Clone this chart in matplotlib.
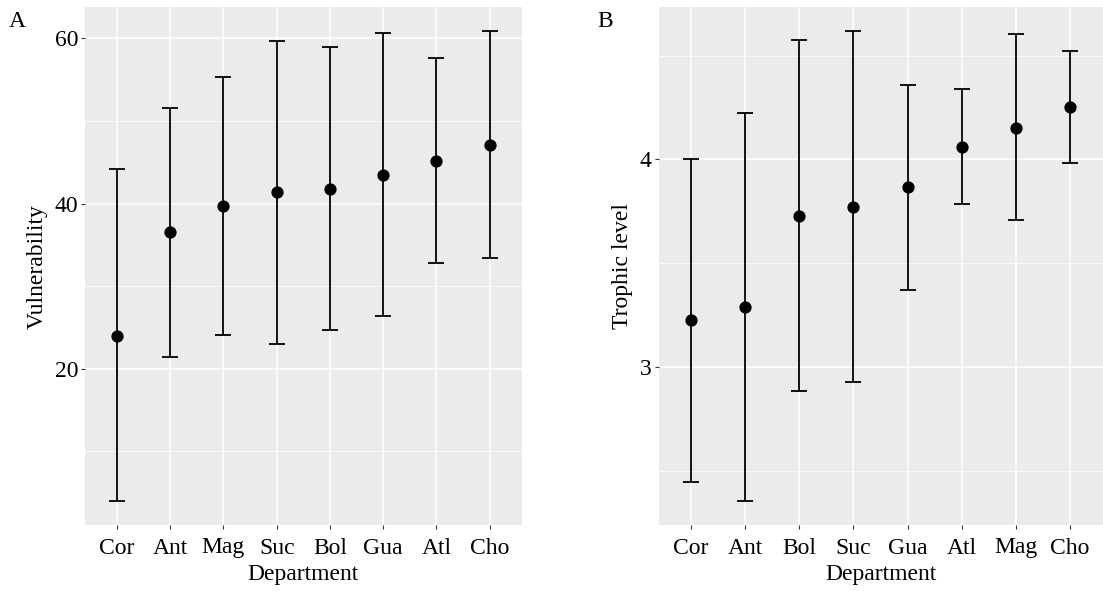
import numpy as np
import matplotlib
matplotlib.use("Agg")
import matplotlib.pyplot as plt
from matplotlib.ticker import FixedLocator

plt.rcParams["font.family"] = ["Liberation Serif", "DejaVu Serif"]

# panel A: vulnerability by department
dept_a = ["Cor", "Ant", "Mag", "Suc", "Bol", "Gua", "Atl", "Cho"]
vuln_mean = np.array([24.0, 36.5, 39.7, 41.4, 41.8, 43.5, 45.2, 47.1])
vuln_low = np.array([3.95, 21.4, 24.1, 23.0, 24.7, 26.4, 32.8, 33.4])
vuln_high = np.array([44.2, 51.6, 55.3, 59.7, 58.9, 60.6, 57.6, 60.9])

# panel B: trophic level by department
dept_b = ["Cor", "Ant", "Bol", "Suc", "Gua", "Atl", "Mag", "Cho"]
troph_mean = np.array([3.224, 3.287, 3.729, 3.773, 3.865, 4.061, 4.153, 4.254])
troph_low = np.array([2.446, 2.351, 2.884, 2.926, 3.372, 3.786, 3.707, 3.984])
troph_high = np.array([4.0, 4.224, 4.575, 4.620, 4.360, 4.338, 4.604, 4.525])

FS = 17


def gg_panel(ax, cats, mean, low, high, ylabel, major, minor):
    x = np.arange(len(cats))
    ax.set_facecolor("#EBEBEB")
    for s in ax.spines.values():
        s.set_visible(False)
    ax.set_axisbelow(True)

    ax.errorbar(x, mean, yerr=[mean - low, high - mean], fmt="o",
                color="black", ms=7.8, elinewidth=1.3, capsize=5.8,
                capthick=1.3, zorder=3)

    ax.set_xticks(x)
    ax.set_xticklabels(cats)
    ax.yaxis.set_major_locator(FixedLocator(major))
    ax.yaxis.set_minor_locator(FixedLocator(minor))
    ax.grid(which="major", color="white", lw=1.1)
    ax.grid(which="minor", axis="y", color="white", lw=0.55)

    lo, hi = low.min(), high.max()
    pad = 0.05 * (hi - lo)
    ax.set_ylim(lo - pad, hi + pad)
    ax.set_xlim(-0.6, len(cats) - 0.4)

    ax.tick_params(which="major", length=3, width=0.8, color="#333333",
                   labelsize=FS, labelcolor="black", pad=2)
    ax.tick_params(axis="x", which="major", pad=6)
    ax.tick_params(which="minor", length=0)
    ax.set_xlabel("Department", fontsize=FS, labelpad=4)
    ax.set_ylabel(ylabel, fontsize=FS, labelpad=5)


fig = plt.figure(figsize=(11.03, 5.91), dpi=100)
ax1 = fig.add_axes([85 / 1103, 66 / 591, 436.7 / 1103, 517.7 / 591])
ax2 = fig.add_axes([658.5 / 1103, 66 / 591, 444 / 1103, 517.7 / 591])

gg_panel(ax1, dept_a, vuln_mean, vuln_low, vuln_high, "Vulnerability",
         [20, 40, 60], [10, 30, 50])
gg_panel(ax2, dept_b, troph_mean, troph_low, troph_high, "Trophic level",
         [3, 4], [2.5, 3.5, 4.5])

fig.text(9 / 1103, 1 - 27 / 591, "A", fontsize=FS, va="baseline")
fig.text(597 / 1103, 1 - 27 / 591, "B", fontsize=FS, va="baseline")

fig.savefig("out.png", dpi=100)
